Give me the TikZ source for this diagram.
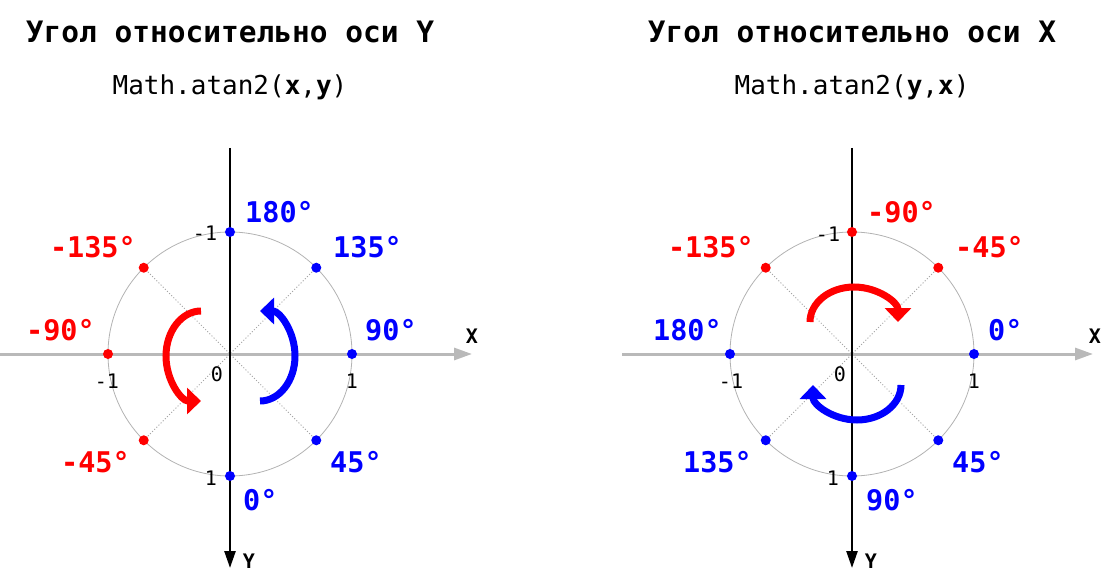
\documentclass[tikz,border=0pt]{standalone}
\usepackage{fontspec}
\setmainfont{DejaVu Sans Mono}
\usetikzlibrary{arrows.meta}

\definecolor{axisgray}{RGB}{185,185,185}
\definecolor{ringgray}{RGB}{178,178,178}
\definecolor{dotgray}{RGB}{165,165,165}
\definecolor{ptblue}{RGB}{0,0,255}
\definecolor{ptred}{RGB}{255,0,0}

\begin{document}
\begin{tikzpicture}[x=1pt,y=1pt,
  title/.style={font=\fontsize{29.5}{34}\selectfont\bfseries,anchor=base,inner sep=0pt},
  formula/.style={font=\fontsize{26}{30}\selectfont,anchor=base,inner sep=0pt},
  xaxis/.style={axisgray,line width=3pt,-{Triangle[length=18pt,width=12pt]}},
  yaxis/.style={black,line width=2.5pt,-{Triangle[length=17pt,width=11pt]}},
  ring/.style={ringgray,line width=0.8pt},
  diag/.style={dotgray,dotted,line width=1pt},
  dot/.style={circle,inner sep=0pt,minimum size=10pt},
  turn/.style={line width=7pt,-{Triangle[length=14pt,width=26pt]}},
  deg/.style={font=\fontsize{28.5}{33}\selectfont\bfseries,inner sep=0pt},
  tick/.style={font=\fontsize{20}{23}\selectfont,inner sep=0pt},
  axlabel/.style={font=\fontsize{20}{23}\selectfont\bfseries,inner sep=0pt}]
\useasboundingbox (0,0) rectangle (1105,574);

% left: angle from the Y axis
\node[title] (ltitle) at (230,531) {Угол относительно оси Y};
\node[formula] (lformula) at (230,479) {Math.atan2(\textbf{x},\textbf{y})};

\begin{scope}[shift={(230,220)}]
\draw[ring] (0,0) circle (122);
\foreach \a/\n in {0/a,45/b,90/c,135/d,180/e,225/f,270/g,315/h}
  \coordinate (L\n) at (\a:122);
\draw[diag] (Ld) -- (Lh);
\draw[diag] (Lb) -- (Lf);

\coordinate (Lxs) at (-230,0);
\coordinate (Lxe) at (242,0);
\coordinate (Lys) at (0,206);
\coordinate (Lye) at (0,-214);
\draw[xaxis] (Lxs) -- (Lxe);
\draw[yaxis] (Lys) -- (Lye);
\node[axlabel] (lx) at (242,18) {X};
\node[axlabel] (ly) at (19,-207) {Y};

\foreach \n/\c in {a/ptblue,b/ptblue,c/ptblue,g/ptblue,h/ptblue,d/ptred,e/ptred,f/ptred}
  \node[dot,fill=\c] (Ldot\n) at (L\n) {};

\draw[turn,ptred] (-29,43) arc[start angle=90,end angle=270,x radius=35,y radius=45];
\draw[turn,ptblue] (30,-47) arc[start angle=-90,end angle=90,x radius=35,y radius=45];

\node[tick] (lm1t) at (-25,121) {-1};
\node[tick] (lp1b) at (-19,-124) {1};
\node[tick] (lm1l) at (-123,-27) {-1};
\node[tick] (lp1r) at (122,-27) {1};
\node[tick] (lzero) at (-13,-20) {0};

\node[deg,ptblue,anchor=base west] (l180) at (15,132) {180°};
\node[deg,ptblue,anchor=base west] (l135) at (103,97) {135°};
\node[deg,ptblue,anchor=base west] (l90) at (135,14) {90°};
\node[deg,ptblue,anchor=base west] (l45) at (100,-118) {45°};
\node[deg,ptblue,anchor=base west] (l0) at (13,-156) {0°};
\node[deg,ptred,anchor=base east] (lm45) at (-100,-118) {-45°};
\node[deg,ptred,anchor=base east] (lm90) at (-135,14) {-90°};
\node[deg,ptred,anchor=base east] (lm135) at (-94,97) {-135°};
\end{scope}

% right: angle from the X axis
\node[title] (rtitle) at (852,531) {Угол относительно оси X};
\node[formula] (rformula) at (852,479) {Math.atan2(\textbf{y},\textbf{x})};

\begin{scope}[shift={(852,220)}]
\draw[ring] (0,0) circle (122);
\foreach \a/\n in {0/a,45/b,90/c,135/d,180/e,225/f,270/g,315/h}
  \coordinate (R\n) at (\a:122);
\draw[diag] (Rd) -- (Rh);
\draw[diag] (Rb) -- (Rf);

\coordinate (Rxs) at (-230,0);
\coordinate (Rxe) at (241,0);
\coordinate (Rys) at (0,206);
\coordinate (Rye) at (0,-214);
\draw[xaxis] (Rxs) -- (Rxe);
\draw[yaxis] (Rys) -- (Rye);
\node[axlabel] (rx) at (243,18) {X};
\node[axlabel] (ry) at (19,-207) {Y};

\foreach \n/\c in {a/ptblue,e/ptblue,f/ptblue,g/ptblue,h/ptblue,b/ptred,c/ptred,d/ptred}
  \node[dot,fill=\c] (Rdot\n) at (R\n) {};

\draw[turn,ptred] (-42,32) arc[start angle=180,end angle=0,x radius=44,y radius=35];
\draw[turn,ptblue] (49,-31) arc[start angle=0,end angle=-180,x radius=44,y radius=35];

\node[tick] (rm1t) at (-24,120) {-1};
\node[tick] (rp1b) at (-19,-124) {1};
\node[tick] (rm1l) at (-121,-27) {-1};
\node[tick] (rp1r) at (122,-27) {1};
\node[tick] (rzero) at (-12,-20) {0};

\node[deg,ptred,anchor=base west] (rm90) at (15,132) {-90°};
\node[deg,ptred,anchor=base west] (rm45) at (103,97) {-45°};
\node[deg,ptblue,anchor=base west] (r0) at (136,14) {0°};
\node[deg,ptblue,anchor=base west] (r45) at (100,-118) {45°};
\node[deg,ptblue,anchor=base west] (r90) at (14,-156) {90°};
\node[deg,ptblue,anchor=base east] (r135) at (-100,-118) {135°};
\node[deg,ptblue,anchor=base east] (r180) at (-130,14) {180°};
\node[deg,ptred,anchor=base east] (rm135) at (-98,97) {-135°};
\end{scope}
\end{tikzpicture}
\end{document}
